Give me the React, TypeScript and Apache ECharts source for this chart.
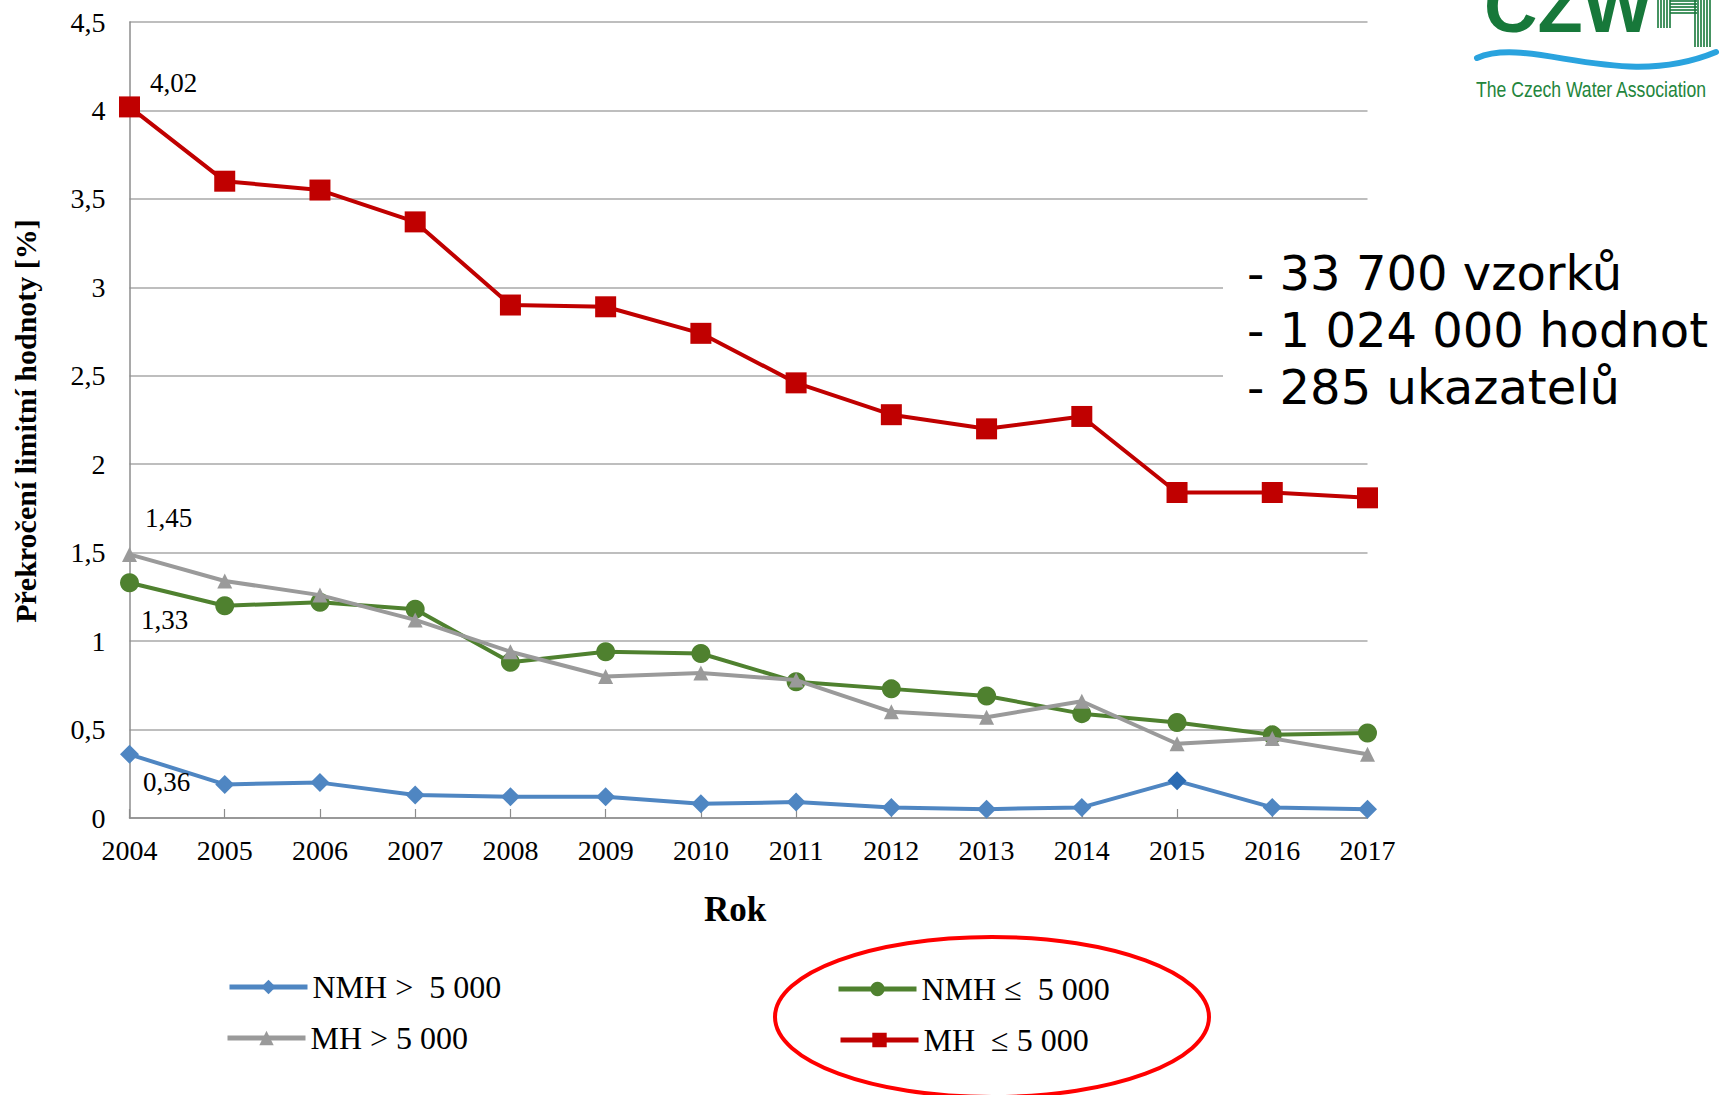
import React, { useEffect, useRef } from "react";
import * as echarts from "echarts";

const years = ["2004", "2005", "2006", "2007", "2008", "2009", "2010", "2011", "2012", "2013", "2014", "2015", "2016", "2017"];
const nmhOver = [0.36, 0.19, 0.2, 0.13, 0.12, 0.12, 0.08, 0.09, 0.06, 0.05, 0.06, 0.21, 0.06, 0.05];
const mhOver = [1.49, 1.34, 1.26, 1.12, 0.94, 0.8, 0.82, 0.78, 0.6, 0.57, 0.66, 0.42, 0.45, 0.36];
const nmhUnder = [1.33, 1.2, 1.22, 1.18, 0.88, 0.94, 0.93, 0.77, 0.73, 0.69, 0.59, 0.54, 0.47, 0.48];
const mhUnder = [4.02, 3.6, 3.55, 3.37, 2.9, 2.89, 2.74, 2.46, 2.28, 2.2, 2.27, 1.84, 1.84, 1.81];

const seriesNames = ["NMH >  5 000", "MH > 5 000", "NMH ≤  5 000", "MH  ≤ 5 000"];
const firstLabels = ["0,36", "1,45", "1,33", "4,02"];
const infoLines = ["- 33 700 vzorků", "- 1 024 000 hodnot", "- 285 ukazatelů"];
const yAxisTitle = "Překročení limitní hodnoty [%]";
const xAxisTitle = "Rok";

const SERIF = '"Liberation Serif", "Times New Roman", serif';
const SANS = '"DejaVu Sans", Verdana, sans-serif';

function withFirstLabel(values: number[], text: string, offset: number[]) {
  return values.map((v, i) =>
    i === 0
      ? {
          value: v,
          label: {
            show: true,
            formatter: text,
            position: "inside",
            offset,
            color: "#000",
            fontFamily: SERIF,
            fontSize: 27,
            textBorderWidth: 0,
          },
        }
      : v
  );
}

export default function App() {
  const ref = useRef<HTMLDivElement>(null);
  useEffect(() => {
    document.body.style.margin = "0";
    const chart = echarts.init(ref.current as HTMLDivElement, null, { renderer: "svg" });
    const legendCommon = {
      orient: "horizontal",
      padding: 0,
      itemWidth: 78,
      itemHeight: 18,
      itemGap: 0,
      selectedMode: false,
      lineStyle: { width: 5 },
      textStyle: { fontFamily: SERIF, fontSize: 32, color: "#000", lineHeight: 32 },
    };
    const blueData: any[] = withFirstLabel(nmhOver, firstLabels[0], [37, 28]);
    blueData[11] = { value: nmhOver[11], itemStyle: { color: "#2c6cb3" } };
    chart.setOption({
      animation: false,
      backgroundColor: "#ffffff",
      grid: { left: 129.5, right: 353.5, top: 22, bottom: 277 },
      xAxis: {
        type: "category",
        data: years,
        boundaryGap: false,
        axisLine: { lineStyle: { color: "#8c8c8c", width: 1.5 } },
        axisTick: { show: true, inside: true, length: 9, lineStyle: { color: "#8c8c8c", width: 1.2 } },
        axisLabel: { color: "#000", fontFamily: SERIF, fontSize: 28, margin: 18 },
        splitLine: { show: false },
      },
      yAxis: {
        type: "value",
        min: 0,
        max: 4.5,
        interval: 0.5,
        axisLine: { show: true, lineStyle: { color: "#8c8c8c", width: 1.5 } },
        axisTick: { show: false },
        axisLabel: {
          color: "#000",
          fontFamily: SERIF,
          fontSize: 28,
          margin: 24,
          formatter: (v: number) => String(v).replace(".", ","),
        },
        splitLine: { show: true, lineStyle: { color: "#a8a8a8", width: 1.5 } },
      },
      legend: [
        { ...legendCommon, data: [seriesNames[0]], left: 227, top: 971 },
        { ...legendCommon, data: [seriesNames[1]], left: 225, top: 1022 },
        { ...legendCommon, data: [seriesNames[2]], left: 836, top: 973 },
        { ...legendCommon, data: [seriesNames[3]], left: 838, top: 1024 },
      ],
      series: [
        {
          name: seriesNames[0],
          type: "line",
          data: blueData,
          symbol: "diamond",
          symbolSize: 19,
          itemStyle: { color: "#4f86c2" },
          lineStyle: { color: "#4f86c2", width: 4 },
          z: 2,
        },
        {
          name: seriesNames[2],
          type: "line",
          data: withFirstLabel(nmhUnder, firstLabels[2], [35, 37]),
          symbol: "circle",
          symbolSize: 19,
          itemStyle: { color: "#4f812f" },
          lineStyle: { color: "#4f812f", width: 4 },
          z: 3,
        },
        {
          name: seriesNames[1],
          type: "line",
          data: withFirstLabel(mhOver, firstLabels[1], [39, -36]),
          symbol: "triangle",
          symbolSize: 15,
          itemStyle: { color: "#9a9a9a" },
          lineStyle: { color: "#9a9a9a", width: 4 },
          z: 4,
        },
        {
          name: seriesNames[3],
          type: "line",
          data: withFirstLabel(mhUnder, firstLabels[3], [44, -24]),
          symbol: "rect",
          symbolSize: 21,
          itemStyle: { color: "#c00000" },
          lineStyle: { color: "#c00000", width: 4 },
          z: 5,
        },
      ],
      graphic: [
        {
          type: "text",
          x: 25,
          y: 421,
          rotation: Math.PI / 2,
          style: {
            text: yAxisTitle,
            fontFamily: SERIF,
            fontSize: 30,
            fontWeight: "bold",
            fill: "#000",
            align: "center",
            verticalAlign: "middle",
          },
        },
        {
          type: "text",
          x: 735,
          y: 909,
          style: {
            text: xAxisTitle,
            fontFamily: SERIF,
            fontSize: 35,
            fontWeight: "bold",
            fill: "#000",
            align: "center",
            verticalAlign: "middle",
          },
        },
        {
          type: "rect",
          z: 100,
          shape: { x: 1223, y: 220, width: 498, height: 220 },
          style: { fill: "#ffffff" },
        },
        ...infoLines.map((t, i) => ({
          type: "text",
          z: 101,
          x: 1247,
          y: 273 + i * 57,
          style: {
            text: t,
            fontFamily: SANS,
            fontSize: 48,
            fill: "#000",
            align: "left",
            verticalAlign: "middle",
          },
        })),
        {
          type: "ellipse",
          z: 101,
          shape: { cx: 992, cy: 1017, rx: 217, ry: 80 },
          style: { fill: "none", stroke: "#ff0000", lineWidth: 4 },
        },
        {
          type: "text",
          z: 101,
          x: 1484,
          y: 6,
          style: {
            text: "CZW",
            fontFamily: '"Liberation Sans", Arial, sans-serif',
            fontSize: 74,
            fontWeight: "bold",
            fill: "#17783a",
            align: "left",
            verticalAlign: "middle",
          },
        },
        ...[1658, 1661, 1664, 1667, 1670].map((x) => ({
          type: "line",
          z: 101,
          shape: { x1: x, y1: 0, x2: x, y2: 28 },
          style: { stroke: "#17783a", lineWidth: 1.6 },
        })),
        ...[1, 4, 7, 10, 13].map((y) => ({
          type: "line",
          z: 101,
          shape: { x1: 1670, y1: y, x2: 1697, y2: y },
          style: { stroke: "#17783a", lineWidth: 1.6 },
        })),
        ...[1695, 1698, 1701, 1704, 1707, 1710].map((x) => ({
          type: "line",
          z: 101,
          shape: { x1: x, y1: 0, x2: x, y2: 47 },
          style: { stroke: "#17783a", lineWidth: 1.6 },
        })),
        {
          type: "bezierCurve",
          z: 101,
          shape: { x1: 1477, y1: 58, cpx1: 1530, cpy1: 35, cpx2: 1620, cpy2: 92, x2: 1716, y2: 52 },
          style: { stroke: "#2aa3de", lineWidth: 6, fill: "none", lineCap: "round" },
        },
        {
          type: "text",
          z: 101,
          x: 1476,
          y: 89,
          scaleX: 0.8,
          style: {
            text: "The Czech Water Association",
            fontFamily: '"Liberation Sans", Arial, sans-serif',
            fontSize: 22,
            fill: "#23853c",
            align: "left",
            verticalAlign: "middle",
          },
        },
      ],
    });
    return () => chart.dispose();
  }, []);
  return <div ref={ref} style={{ width: 1721, height: 1095 }} />;
}
